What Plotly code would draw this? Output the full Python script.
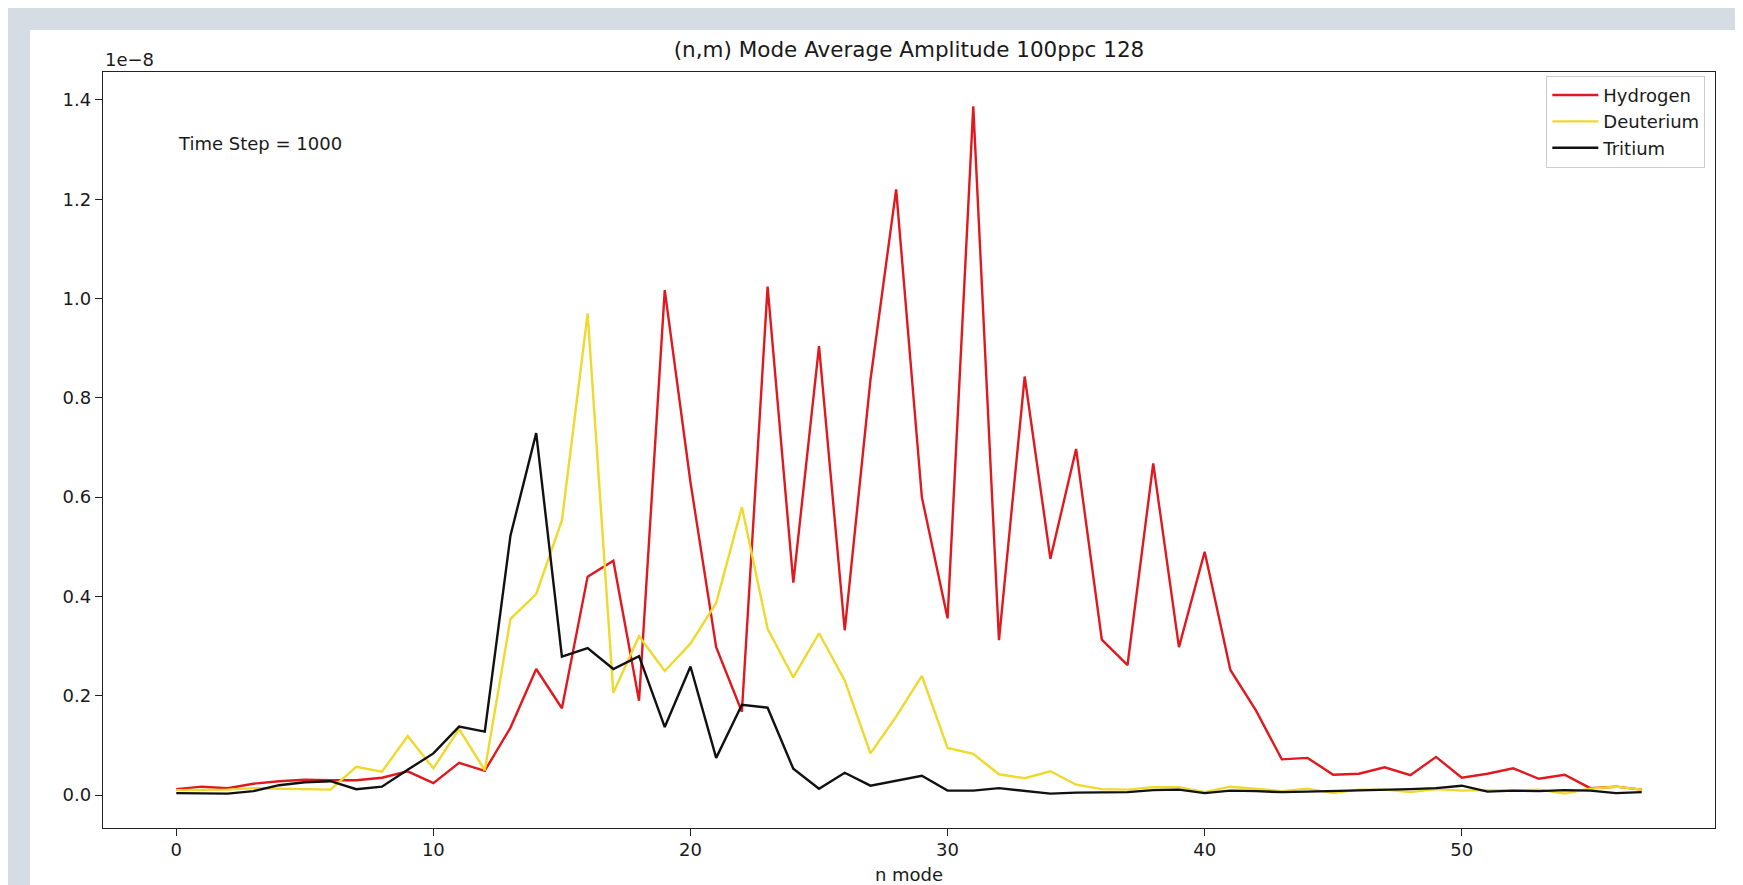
import plotly.graph_objects as go

# n mode index
n_mode = list(range(58))

# Average amplitudes, in units of 1e-8
hydrogen = [0.012, 0.017, 0.014, 0.023, 0.028, 0.031, 0.030, 0.030, 0.035, 0.048,
            0.024, 0.065, 0.049, 0.136, 0.254, 0.175, 0.440, 0.472, 0.190, 1.017,
            0.630, 0.298, 0.168, 1.024, 0.428, 0.904, 0.332, 0.836, 1.220, 0.600,
            0.356, 1.387, 0.312, 0.843, 0.476, 0.697, 0.313, 0.262, 0.668, 0.298,
            0.490, 0.252, 0.170, 0.072, 0.075, 0.041, 0.043, 0.056, 0.040, 0.077,
            0.035, 0.043, 0.054, 0.033, 0.041, 0.014, 0.017, 0.011]

deuterium = [0.010, 0.011, 0.011, 0.014, 0.013, 0.012, 0.011, 0.057, 0.047, 0.119,
             0.054, 0.133, 0.050, 0.355, 0.405, 0.553, 0.970, 0.206, 0.320, 0.250,
             0.305, 0.387, 0.580, 0.335, 0.237, 0.326, 0.231, 0.084, 0.158, 0.240,
             0.095, 0.083, 0.042, 0.034, 0.048, 0.021, 0.012, 0.011, 0.016, 0.016,
             0.006, 0.017, 0.012, 0.008, 0.013, 0.004, 0.011, 0.011, 0.006, 0.012,
             0.009, 0.010, 0.009, 0.011, 0.003, 0.013, 0.017, 0.011]

tritium = [0.004, 0.003, 0.003, 0.008, 0.020, 0.026, 0.028, 0.012, 0.017, 0.051,
           0.084, 0.138, 0.128, 0.523, 0.729, 0.279, 0.296, 0.254, 0.280, 0.137,
           0.259, 0.075, 0.182, 0.176, 0.053, 0.013, 0.045, 0.019, 0.029, 0.039,
           0.009, 0.009, 0.014, 0.009, 0.003, 0.005, 0.005, 0.006, 0.010, 0.011,
           0.004, 0.009, 0.008, 0.006, 0.007, 0.008, 0.010, 0.011, 0.012, 0.014,
           0.019, 0.007, 0.009, 0.008, 0.010, 0.009, 0.004, 0.006]

series_names = ["Hydrogen", "Deuterium", "Tritium"]
series_colors = ["#e0191f", "#eed92c", "#111111"]

x_ticks = [0, 10, 20, 30, 40, 50]
y_ticks = [0.0, 0.2, 0.4, 0.6, 0.8, 1.0, 1.2, 1.4]

FONT = "DejaVu Sans"
TXT = "#1a1a1a"
FS = 18

fig = go.Figure()
for name, color, vals in zip(series_names, series_colors, [hydrogen, deuterium, tritium]):
    fig.add_trace(go.Scatter(x=n_mode, y=vals, mode="lines", name=name,
                             legendgroup=name,
                             line=dict(color=color, width=2.4)))

# matplotlib-like 5% margins
all_vals = hydrogen + deuterium + tritium
ymin, ymax = min(all_vals), max(all_vals)
ypad = 0.05 * (ymax - ymin)
xpad = 0.05 * (n_mode[-1] - n_mode[0])

W, H = 1735, 877
ML, MR, MT, MB = 95, 28, 64, 57
PW, PH = W - ML - MR, H - MT - MB

fig.update_layout(
    width=W, height=H,
    paper_bgcolor="#d6dce4",
    plot_bgcolor="white",
    margin=dict(l=ML, r=MR, t=MT, b=MB, autoexpand=False),
    font=dict(family=FONT, size=FS, color=TXT),
    title=dict(text="(n,m) Mode Average Amplitude 100ppc 128",
               x=0.5, xref="paper", xanchor="center",
               y=1 - 41 / H, yref="container", yanchor="middle",
               font=dict(family=FONT, size=21.5, color=TXT)),
    showlegend=True,
    legend=dict(x=0.994, y=0.995, xanchor="right", yanchor="top",
                bgcolor="rgba(255,255,255,0.85)", bordercolor="#cccccc",
                borderwidth=1, font=dict(family=FONT, size=FS, color=TXT),
                tracegroupgap=4, traceorder="normal", itemwidth=46),
    shapes=[dict(type="rect", xref="paper", yref="paper",
                 x0=(22 - ML) / PW, x1=1.05, y0=-0.15, y1=(MT + PH - 22) / PH,
                 fillcolor="white", line=dict(width=0), layer="below")],
    annotations=[
        dict(text="Time Step = 1000", x=0, y=1.313, xref="x", yref="y",
             xanchor="left", yanchor="middle", showarrow=False,
             font=dict(family=FONT, size=FS, color=TXT)),
        dict(text="1e\u22128", x=0, y=1, xref="paper", yref="paper",
             xanchor="left", yanchor="bottom", yshift=0, showarrow=False,
             font=dict(family=FONT, size=FS, color=TXT)),
    ],
)

fig.update_xaxes(range=[n_mode[0] - xpad, n_mode[-1] + xpad],
                 automargin=False,
                 tickvals=x_ticks, ticktext=[str(v) for v in x_ticks],
                 showgrid=False, zeroline=False,
                 showline=True, linecolor="#222222", linewidth=1.3, mirror=True,
                 ticks="outside", ticklen=7, tickwidth=1.2, tickcolor="#222222",
                 ticklabelstandoff=-2,
                 tickfont=dict(family=FONT, size=FS, color=TXT),
                 title=dict(text="n mode", standoff=9,
                            font=dict(family=FONT, size=FS, color=TXT)))

fig.update_yaxes(range=[ymin - ypad, ymax + ypad],
                 automargin=False,
                 tickvals=y_ticks, ticktext=[f"{v:.1f}" for v in y_ticks],
                 showgrid=False, zeroline=False,
                 showline=True, linecolor="#222222", linewidth=1.3, mirror=True,
                 ticks="outside", ticklen=7, tickwidth=1.2, tickcolor="#222222",
                 tickfont=dict(family=FONT, size=FS, color=TXT))

fig.write_html("out.html")
